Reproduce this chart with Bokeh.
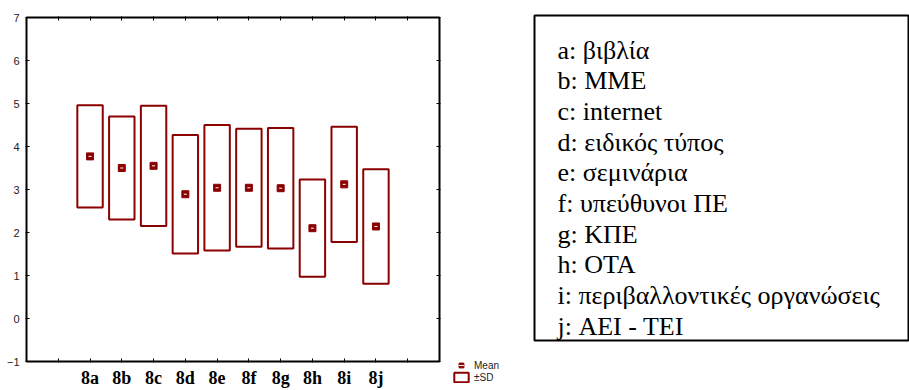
from bokeh.plotting import figure
from bokeh.models import (Range1d, FixedTicker, LinearAxis, Legend, LegendItem,
                          ColumnDataSource)
from bokeh.layouts import row, column
from bokeh.embed import file_html
from bokeh.resources import INLINE
from bokeh.core.properties import value

# ---- data ----
categories = ["8a", "8b", "8c", "8d", "8e", "8f", "8g", "8h", "8i", "8j"]
means = [3.77, 3.50, 3.55, 2.89, 3.04, 3.04, 3.03, 2.10, 3.12, 2.14]
sds = [1.19, 1.20, 1.40, 1.38, 1.46, 1.37, 1.40, 1.13, 1.34, 1.33]
y_ticks = [-1, 0, 1, 2, 3, 4, 5, 6, 7]
legend_labels = ["Mean", "±SD"]
key_lines = [
    "a: βιβλία",
    "b: ΜΜΕ",
    "c: internet",
    "d: ειδικός τύπος",
    "e: σεμινάρια",
    "f:  υπεύθυνοι ΠΕ",
    "g: ΚΠΕ",
    "h: ΟΤΑ",
    "i:  περιβαλλοντικές οργανώσεις",
    "j: ΑΕΙ - ΤΕΙ",
]

DARKRED = "#8B0000"
SERIF = "'Liberation Serif', 'Times New Roman', serif"
SANS = "'Liberation Sans', Arial, sans-serif"

xs = [i + 2 for i in range(len(categories))]
lower = [m - s for m, s in zip(means, sds)]
upper = [m + s for m, s in zip(means, sds)]

# ---- main chart ----
p = figure(width=445, height=390, output_backend="svg", toolbar_location=None,
           x_range=Range1d(0, 13), y_range=Range1d(-1, 7),
           min_border_left=26, min_border_top=17, min_border_right=6,
           min_border_bottom=28, x_axis_type=None, y_axis_type=None)
p.grid.visible = False
p.outline_line_color = "black"
p.outline_line_width = 2

all_x_ticks = list(range(1, 13))
overrides = {t: "" for t in all_x_ticks}
for x, c in zip(xs, categories):
    overrides[x] = c

def style_axis(ax):
    ax.axis_line_color = None
    ax.major_tick_line_color = "black"
    ax.major_tick_line_width = 1
    ax.major_tick_in = 3
    ax.major_tick_out = 1
    ax.minor_tick_line_color = None

xb = LinearAxis(ticker=FixedTicker(ticks=all_x_ticks), major_label_overrides=overrides)
style_axis(xb)
xb.major_label_text_font = SERIF
xb.major_label_text_font_style = "bold"
xb.major_label_text_font_size = "18px"
xb.major_label_text_color = "black"
xb.major_label_standoff = 5
p.add_layout(xb, "below")

xt = LinearAxis(ticker=FixedTicker(ticks=all_x_ticks))
style_axis(xt)
xt.major_label_text_font_size = "0px"
xt.major_label_standoff = 0
p.add_layout(xt, "above")

yl = LinearAxis(ticker=FixedTicker(ticks=y_ticks))
style_axis(yl)
yl.major_label_text_font = SANS
yl.major_label_text_font_size = "11px"
yl.major_label_text_color = "#222222"
yl.major_label_standoff = 6
p.add_layout(yl, "left")

yr = LinearAxis(ticker=FixedTicker(ticks=y_ticks))
style_axis(yr)
yr.major_label_text_font_size = "0px"
yr.major_label_standoff = 0
p.add_layout(yr, "right")

p.quad(left=[x - 0.4 for x in xs], right=[x + 0.4 for x in xs],
       bottom=lower, top=upper, fill_color="white",
       line_color=DARKRED, line_width=2)
p.scatter(xs, means, marker="square", size=7, fill_color=DARKRED,
          line_color=DARKRED)
p.scatter(xs, means, marker="dash", size=3, line_color="white", line_width=1)

# ---- legend panel (same glyph styles; placeholder rows draw nothing) ----
pm = figure(width=85, height=390, output_backend="svg", toolbar_location=None,
            x_range=Range1d(0, 1), y_range=Range1d(0, 1),
            min_border=0, min_border_left=0, min_border_right=0,
            min_border_top=0, min_border_bottom=0,
            x_axis_type=None, y_axis_type=None)
pm.grid.visible = False
pm.outline_line_color = None
nan = float("nan")
placeholder = ColumnDataSource(data=dict(x=[nan], y=[nan], l=[nan], r=[nan],
                                         b=[nan], t=[nan]))
lm = pm.scatter("x", "y", source=placeholder, marker="square", size=7,
                fill_color=DARKRED, line_color=DARKRED)
ld = pm.scatter("x", "y", source=placeholder, marker="dash", size=3,
                line_color="white", line_width=1)
lb = pm.quad(left="l", right="r", bottom="b", top="t", source=placeholder,
             fill_color="white", line_color=DARKRED, line_width=2)
legend = Legend(items=[LegendItem(label=legend_labels[0], renderers=[lm, ld]),
                       LegendItem(label=legend_labels[1], renderers=[lb])],
                location=(7, 7), orientation="vertical",
                padding=0, margin=0, spacing=0, glyph_width=18, glyph_height=12,
                label_height=12, label_standoff=4,
                label_text_font=SANS, label_text_font_size="10px",
                label_text_color="#222222",
                border_line_color=None, background_fill_alpha=0)
pm.add_layout(legend)

# ---- key box ----
n = len(key_lines)
q = figure(width=379, height=342, output_backend="svg", toolbar_location=None,
           x_range=Range1d(0, 374), y_range=Range1d(9.462, -1.124),
           min_border_left=4, min_border_top=15, min_border_right=1,
           min_border_bottom=2, x_axis_type=None, y_axis_type=None)
q.grid.visible = False
q.outline_line_color = "black"
q.outline_line_width = 2
q.text(x=[23] * n, y=list(range(n)), text=key_lines,
       text_font=value(SERIF), text_font_size="26px",
       text_color="black", text_baseline="alphabetic", text_align="left")

layout = row(column(p), column(pm), column(q))
open("out.html", "w").write(file_html(layout, INLINE))
